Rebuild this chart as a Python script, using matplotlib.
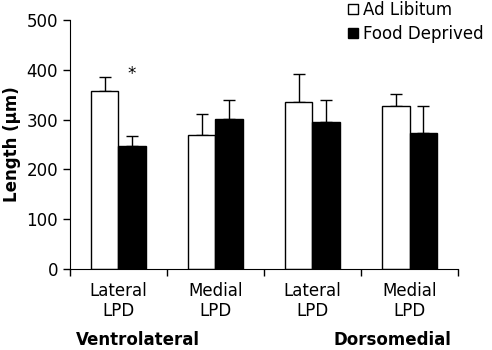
import matplotlib.pyplot as plt
import numpy as np

regions = ["Lateral\nLPD", "Medial\nLPD", "Lateral\nLPD", "Medial\nLPD"]
groups = ["Ventrolateral", "Dorsomedial"]
ad_lib = [358, 269, 336, 327]
ad_lib_err = [27, 42, 55, 24]
food_dep = [247, 302, 295, 274]
food_dep_err = [20, 38, 45, 54]

fig = plt.figure(figsize=(4.92, 3.5), dpi=100)
ax = fig.add_axes([0.142, 0.231, 0.789, 0.712])

x = np.arange(len(regions))
w = 0.28
ax.bar(x - w / 2, ad_lib, w, color='white', edgecolor='black', linewidth=1, label='Ad Libitum', zorder=2)
ax.bar(x + w / 2, food_dep, w, color='black', edgecolor='black', linewidth=1, label='Food Deprived', zorder=2)
ax.errorbar(x - w / 2, ad_lib, yerr=[np.zeros(4), ad_lib_err], fmt='none', ecolor='black',
            elinewidth=1, capsize=4, capthick=1, zorder=1)
ax.errorbar(x + w / 2, food_dep, yerr=[np.zeros(4), food_dep_err], fmt='none', ecolor='black',
            elinewidth=1, capsize=4, capthick=1, zorder=1)

ax.text(x[0] + w / 2, 392, '*', ha='center', va='center', fontsize=12)

ax.set_xlim(-0.5, len(regions) - 0.5)
ax.set_ylim(0, 500)
ax.set_yticks([0, 100, 200, 300, 400, 500])
ax.set_xticks(np.arange(len(regions) + 1) - 0.5)
ax.set_xticklabels([])
ax.set_xticks(x, minor=True)
ax.set_xticklabels(regions, minor=True, fontsize=12)
ax.tick_params(axis='x', which='minor', length=0, pad=9)
ax.tick_params(axis='x', which='major', length=5, width=1)
ax.tick_params(axis='y', length=5, width=1, labelsize=12)
for s in ['top', 'right']:
    ax.spines[s].set_visible(False)
ax.set_ylabel('Length (\u00b5m)', fontsize=12, fontweight='bold', labelpad=4)

fig.text(0.28, 0.029, groups[0], ha='center', va='center', fontsize=12, fontweight='bold')
fig.text(0.797, 0.029, groups[1], ha='center', va='center', fontsize=12, fontweight='bold')

fig.legend(loc='upper left', bbox_to_anchor=(0.676, 1.04), frameon=False, fontsize=12,
           handlelength=0.6, handleheight=0.6, handletextpad=0.35, labelspacing=0.35)

fig.savefig('out.png', dpi=100)
